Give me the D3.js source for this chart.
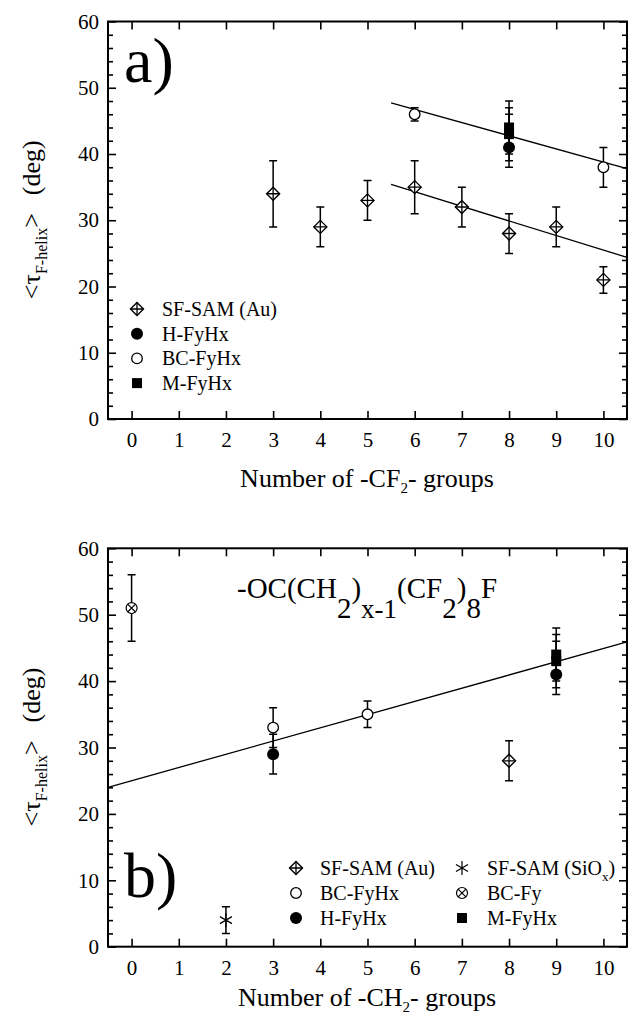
<!DOCTYPE html>
<html>
<head>
<meta charset="utf-8">
<script src="https://cdn.jsdelivr.net/npm/d3@7"></script>
</head>
<body style="margin:0;background:#fff">
<svg width="628" height="1017" style="display:block"></svg>
<script>
const serif = '"Liberation Serif", "Times New Roman", serif'

// tick values, shared by both panels
const xTicks = [0, 1, 2, 3, 4, 5, 6, 7, 8, 9, 10]
const yMajor = [0, 10, 20, 30, 40, 50, 60]
const yMinor = [2, 4, 6, 8, 12, 14, 16, 18, 22, 24, 26, 28, 32, 34, 36, 38, 42, 44, 46, 48, 52, 54, 56, 58]

// panel a) : x = number of -CF2- groups, y = <tau>, lo/hi = ends of the error bar
const sfSamAuA = [
  { x: 3, y: 34, lo: 29, hi: 39 }, { x: 4, y: 29, lo: 26, hi: 32 },
  { x: 5, y: 33, lo: 30, hi: 36 }, { x: 6, y: 35, lo: 31, hi: 39 },
  { x: 7, y: 32, lo: 29, hi: 35 }, { x: 8, y: 28, lo: 25, hi: 31 },
  { x: 9, y: 29, lo: 26, hi: 32 }, { x: 10, y: 21, lo: 19, hi: 23 }
]
const bcFyHxA = [{ x: 6, y: 46, lo: 45, hi: 47 }, { x: 10, y: 38, lo: 35, hi: 41 }]
const hFyHxA = [{ x: 8, y: 41, lo: 38, hi: 46 }]
const mFyHxA = [{ x: 8, y: 44, lo: 40, hi: 48 }, { x: 8, y: 43, lo: 39, hi: 47 }]
const fitLinesA = [
  [[5.5, 47.7], [10.5, 37.8]],
  [[5.5, 35.4], [10.5, 24.4]]
]

// panel b) : x = number of -CH2- groups
const sfSamAuB = [{ x: 8, y: 28, lo: 25, hi: 31 }]
const bcFyHxB = [{ x: 3, y: 33, lo: 30, hi: 36 }, { x: 5, y: 35, lo: 33, hi: 37 }]
const hFyHxB = [{ x: 3, y: 29, lo: 26, hi: 32 }, { x: 9, y: 41, lo: 38, hi: 46 }]
const mFyHxB = [{ x: 9, y: 44, lo: 40, hi: 48 }, { x: 9, y: 43, lo: 39, hi: 47 }]
const sfSamSiOxB = [{ x: 2, y: 4, lo: 2, hi: 6 }]
const bcFyB = [{ x: 0, y: 51, lo: 46, hi: 56 }]
const fitLinesB = [
  [[-0.5, 24.0], [10.5, 45.9]]
]

// legends
const legendA = [
  { type: 'diamond', label: 'SF-SAM (Au)' },
  { type: 'filled', label: 'H-FyHx' },
  { type: 'open', label: 'BC-FyHx' },
  { type: 'square', label: 'M-FyHx' }
]
const legendBLeft = [
  { type: 'diamond', label: 'SF-SAM (Au)' },
  { type: 'open', label: 'BC-FyHx' },
  { type: 'filled', label: 'H-FyHx' }
]
const legendBRight = [
  { type: 'star', label: 'SF-SAM (SiO', sub: 'x', tail: ')' },
  { type: 'crossed', label: 'BC-Fy' },
  { type: 'square', label: 'M-FyHx' }
]

const svg = d3.select('svg')

drawPanel({
  top: 21.5, bottom: 419,
  sets: [
    { data: sfSamAuA, type: 'diamond' },
    { data: bcFyHxA, type: 'open' },
    { data: mFyHxA, type: 'square' },
    { data: hFyHxA, type: 'filled' }
  ],
  fits: fitLinesA,
  tag: 'a)', tagY: 82,
  xTitle: '-CF', titleY: 487
})

drawPanel({
  top: 548.3, bottom: 946.7,
  sets: [
    { data: sfSamAuB, type: 'diamond' },
    { data: bcFyHxB, type: 'open' },
    { data: mFyHxB, type: 'square' },
    { data: hFyHxB, type: 'filled' },
    { data: sfSamSiOxB, type: 'star' },
    { data: bcFyB, type: 'crossed' }
  ],
  fits: fitLinesB,
  tag: 'b)', tagY: 897,
  xTitle: '-CH', titleY: 1006
})

// legend of panel a)
drawLegend(legendA, 137, 162, 309, 24.7)
// legend of panel b), two columns
drawLegend(legendBLeft, 296, 320, 868, 25)
drawLegend(legendBRight, 462, 487, 868, 25)

// formula in panel b)
const formula = svg.append('text')
  .attr('x', 237).attr('y', 598)
  .attr('font-size', 29)
  .style('font-family', serif)
formula.append('tspan').text('-OC(CH')
formula.append('tspan').attr('dy', 20).text('2')
formula.append('tspan').attr('dy', -20).text(')')
formula.append('tspan').attr('dy', 20).attr('font-size', 27).text('x-1')
formula.append('tspan').attr('dy', -20).text('(CF')
formula.append('tspan').attr('dy', 20).text('2')
formula.append('tspan').attr('dy', -20).text(')')
formula.append('tspan').attr('dy', 20).text('8')
formula.append('tspan').attr('dy', -20).text('F')

function drawPanel(cfg) {
  const x = d3.scaleLinear().domain([-0.5, 10.5]).range([108, 627])
  const y = d3.scaleLinear().domain([0, 60]).range([cfg.bottom, cfg.top])
  const g = svg.append('g')

  // axes, ticks pointing inwards on all four sides
  g.append('g')
    .attr('transform', `translate(0,${cfg.bottom})`)
    .call(d3.axisBottom(x).tickValues(xTicks).tickSize(-8).tickPadding(13).tickFormat(d3.format('d')))
  g.append('g')
    .attr('transform', `translate(0,${cfg.top})`)
    .call(d3.axisTop(x).tickValues(xTicks).tickSize(-8).tickFormat(''))
  g.append('g')
    .attr('transform', 'translate(108,0)')
    .call(d3.axisLeft(y).tickValues(yMajor).tickSize(-8).tickPadding(9))
  g.append('g')
    .attr('transform', 'translate(108,0)')
    .call(d3.axisLeft(y).tickValues(yMinor).tickSize(-5).tickFormat(''))
  g.append('g')
    .attr('transform', 'translate(627,0)')
    .call(d3.axisRight(y).tickValues(yMajor).tickSize(-8).tickFormat(''))
  g.append('g')
    .attr('transform', 'translate(627,0)')
    .call(d3.axisRight(y).tickValues(yMinor).tickSize(-5).tickFormat(''))

  g.selectAll('.domain').remove()
  g.selectAll('.tick line').attr('stroke', '#000').attr('stroke-width', 1.6)
  g.selectAll('g').attr('font-size', 21).style('font-family', serif)
  g.selectAll('.tick text').attr('fill', '#000')

  // frame
  g.append('rect')
    .attr('x', 108).attr('y', cfg.top)
    .attr('width', 627 - 108).attr('height', cfg.bottom - cfg.top)
    .attr('fill', 'none').attr('stroke', '#000').attr('stroke-width', 2)

  // fit lines
  const line = d3.line().x(d => x(d[0])).y(d => y(d[1]))
  g.selectAll('path.fit')
    .data(cfg.fits)
    .enter().append('path')
    .attr('class', 'fit')
    .attr('d', line)
    .attr('fill', 'none').attr('stroke', '#000').attr('stroke-width', 1.3)

  // error bars
  cfg.sets.forEach(set => {
    set.data.forEach(d => {
      const cx = x(d.x)
      g.append('path')
        .attr('d', `M${cx},${y(d.lo)}V${y(d.hi)}M${cx - 4},${y(d.lo)}H${cx + 4}M${cx - 4},${y(d.hi)}H${cx + 4}`)
        .attr('stroke', '#000').attr('stroke-width', 1.5).attr('fill', 'none')
    })
  })

  // markers
  cfg.sets.forEach(set => {
    set.data.forEach(d => marker(g, set.type, x(d.x), y(d.y)))
  })

  // panel tag
  svg.append('text')
    .attr('x', 124).attr('y', cfg.tagY)
    .attr('font-size', 64)
    .style('font-family', serif)
    .text(cfg.tag)

  // x axis title
  const xt = svg.append('text')
    .attr('x', 367).attr('y', cfg.titleY)
    .attr('text-anchor', 'middle')
    .attr('font-size', 26)
    .style('font-family', serif)
  xt.append('tspan').text('Number of ' + cfg.xTitle)
  xt.append('tspan').attr('font-size', 15).attr('dy', 6).text('2')
  xt.append('tspan').attr('dy', -6).text('- groups')

  // y axis title
  const cy = (cfg.top + cfg.bottom) / 2 - 0.5
  const yt = svg.append('text')
    .attr('transform', `translate(40,${cy}) rotate(-90)`)
    .attr('text-anchor', 'middle')
    .attr('font-size', 26)
    .style('font-family', serif)
  yt.append('tspan').text('<τ')
  yt.append('tspan').attr('font-size', 16).attr('dy', 7).text('F-helix')
  yt.append('tspan').attr('dy', -7).text('>')
  yt.append('tspan').attr('dx', 18).text('(deg)')
}

function marker(g, type, cx, cy) {
  const m = g.append('g').attr('transform', `translate(${cx},${cy})`)
  if (type === 'diamond') {
    m.append('path').attr('d', 'M0,-6.5L6.5,0L0,6.5L-6.5,0Z')
      .attr('fill', '#fff').attr('stroke', '#000').attr('stroke-width', 1.4)
    m.append('path').attr('d', 'M0,-6.5V6.5M-6.5,0H6.5')
      .attr('stroke', '#000').attr('stroke-width', 1.3)
  } else if (type === 'open') {
    m.append('circle').attr('r', 5.3)
      .attr('fill', '#fff').attr('stroke', '#000').attr('stroke-width', 1.3)
  } else if (type === 'filled') {
    m.append('circle').attr('r', 6).attr('fill', '#000')
  } else if (type === 'square') {
    m.append('rect').attr('x', -5).attr('y', -5).attr('width', 10).attr('height', 10).attr('fill', '#000')
  } else if (type === 'crossed') {
    m.append('circle').attr('r', 5.5)
      .attr('fill', '#fff').attr('stroke', '#000').attr('stroke-width', 1.2)
    m.append('path').attr('d', 'M-3.9,-3.9L3.9,3.9M-3.9,3.9L3.9,-3.9')
      .attr('stroke', '#000').attr('stroke-width', 1.2)
  } else if (type === 'star') {
    m.append('path').attr('d', 'M0,-7V7M-6,-3.5L6,3.5M-6,3.5L6,-3.5')
      .attr('stroke', '#000').attr('stroke-width', 1.2)
  }
}

function drawLegend(items, mx, tx, y0, step) {
  items.forEach((d, i) => {
    const yy = y0 + i * step
    marker(svg, d.type, mx, yy)
    const t = svg.append('text')
      .attr('x', tx).attr('y', yy + 7)
      .attr('font-size', 20)
      .style('font-family', serif)
    t.append('tspan').text(d.label)
    if (d.sub) {
      t.append('tspan').attr('font-size', 13).attr('dy', 6).text(d.sub)
      t.append('tspan').attr('dy', -6).text(d.tail)
    }
  })
}
</script>
</body>
</html>
